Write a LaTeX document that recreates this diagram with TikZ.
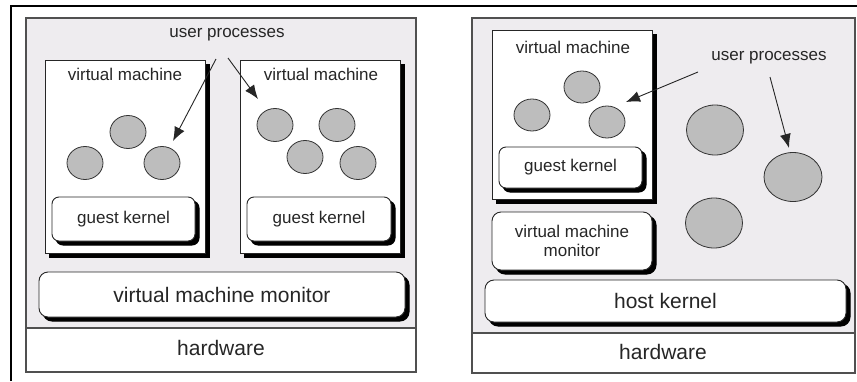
\documentclass[tikz,border=0pt]{standalone}
\usepackage{fontspec}
\setmainfont{Liberation Sans}
\usetikzlibrary{arrows.meta,shapes.geometric}
\definecolor{bggray}{HTML}{EEECEF}
\definecolor{procgray}{HTML}{BDBDBD}
\definecolor{edgegray}{HTML}{505050}
\begin{document}
\begin{tikzpicture}[x=1pt,y=-1pt,
  every node/.style={inner sep=0pt,outer sep=0pt},
  panel/.style={draw=edgegray,line width=1.2pt,fill=bggray,rectangle},
  hwbox/.style={draw=edgegray,line width=1.2pt,fill=white,rectangle},
  hardshadow/.style={preaction={fill=black,draw=black,line width=1pt,transform canvas={shift={(4pt,-4pt)}}}},
  vmbox/.style={draw=black!85,line width=0.9pt,fill=white,rectangle,hardshadow},
  kbox/.style={draw=black!85,line width=0.9pt,fill=white,rectangle,rounded corners=7pt,hardshadow},
  proc/.style={draw=black!80,line width=0.8pt,fill=procgray,ellipse},
  small/.style={font=\fontsize{17}{19}\selectfont,text=black!85},
  big/.style={font=\fontsize{21}{23}\selectfont,text=black!85},
  ptr/.style={draw=black!85,line width=0.9pt,-{Latex[length=14pt,width=11pt]}}
]
\useasboundingbox (0,0) rectangle (857,381);
\fill[white] (0,0) rectangle (857,381);
% outer frame
\draw[line width=2.5pt,black] (11,381) -- (11,6) -- (857,6);

% ---------------- left diagram ----------------
\node[panel,minimum width=390pt,minimum height=310pt] (lpanel) at (221,173) {};
\node[hwbox,minimum width=390pt,minimum height=44pt] (lhw) at (221,350) {};
\node[big] (lhwt) at (221,348) {hardware};
\node[small] (lup) at (227,35) {user processes};

\node[vmbox,minimum width=160pt,minimum height=193pt] (vm1) at (125,156.5) {};
\node[vmbox,minimum width=160pt,minimum height=193pt] (vm2) at (320,156.5) {};
\node[small] (vm1t) at (125,74) {virtual machine};
\node[small] (vm2t) at (321,74) {virtual machine};

\node[kbox,minimum width=143pt,minimum height=44pt,small] (gk1) at (123.5,219) {guest kernel};
\node[kbox,minimum width=144pt,minimum height=44pt,small] (gk2) at (319,219) {guest kernel};
\node[kbox,minimum width=366pt,minimum height=45pt,big,rounded corners=9pt] (vmm) at (222,294.5) {virtual machine monitor};

\node[proc,minimum width=36pt,minimum height=33pt] (p1) at (128,132) {};
\node[proc,minimum width=36pt,minimum height=33pt] (p2) at (85,163) {};
\node[proc,minimum width=36pt,minimum height=33pt] (p3) at (162,163) {};
\node[proc,minimum width=36pt,minimum height=33pt] (p4) at (275,125) {};
\node[proc,minimum width=36pt,minimum height=33pt] (p5) at (337,125) {};
\node[proc,minimum width=36pt,minimum height=33pt] (p6) at (305,157) {};
\node[proc,minimum width=36pt,minimum height=33pt] (p7) at (358,163) {};

\coordinate (la1s) at (216,59);
\coordinate (la1e) at (173,141);
\coordinate (la2s) at (228,58);
\coordinate (la2e) at (258,99);
\draw[ptr] (la1s) -- (la1e);
\draw[ptr] (la2s) -- (la2e);

% ---------------- right diagram ----------------
\node[panel,minimum width=383pt,minimum height=315pt] (rpanel) at (663.5,175.5) {};
\node[hwbox,minimum width=383pt,minimum height=40pt] (rhw) at (663.5,353) {};
\node[big] (rhwt) at (663,352) {hardware};

\node[vmbox,minimum width=160pt,minimum height=169pt] (rvm) at (572,114.5) {};
\node[small] (rvmt) at (573,47) {virtual machine};
\node[kbox,minimum width=143pt,minimum height=41pt,small] (rgk) at (570.5,167.5) {guest kernel};
\node[kbox,minimum width=160pt,minimum height=58pt,small,align=center,rounded corners=9pt] (rvmm) at (572,241) {virtual machine\\monitor};
\node[kbox,minimum width=361pt,minimum height=42pt,big,rounded corners=9pt] (host) at (665.5,301) {host kernel};

\node[small] (rup) at (769,58) {user processes};

\node[proc,minimum width=36pt,minimum height=32pt] (q1) at (582,87) {};
\node[proc,minimum width=36pt,minimum height=32pt] (q2) at (532,115) {};
\node[proc,minimum width=36pt,minimum height=32pt] (q3) at (607,122) {};
\node[proc,minimum width=57pt,minimum height=50pt] (q4) at (715,130) {};
\node[proc,minimum width=58pt,minimum height=49pt] (q5) at (793,177) {};
\node[proc,minimum width=57pt,minimum height=50pt] (q6) at (714,223) {};

\coordinate (ra1s) at (698,72);
\coordinate (ra1e) at (626,102);
\coordinate (ra2s) at (770,77);
\coordinate (ra2e) at (789,148);
\draw[ptr] (ra1s) -- (ra1e);
\draw[ptr] (ra2s) -- (ra2e);
\end{tikzpicture}
\end{document}
